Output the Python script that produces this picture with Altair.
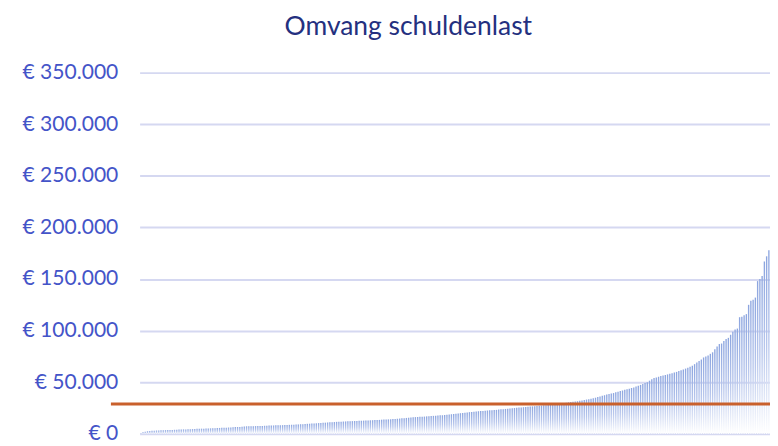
import altair as alt
import pandas as pd

# Debt amounts per household, sorted ascending (EUR)
debts = [
    900, 1500, 2100, 2500, 2800, 3000, 3100, 3200, 3300, 3400, 3500, 3600, 3700, 3800, 3800, 3900, 4000, 4100, 4200, 4300,
    4300, 4400, 4500, 4600, 4700, 4800, 4900, 5000, 5000, 5100, 5200, 5300, 5400, 5500, 5600, 5700, 5800, 5900, 6000, 6100,
    6200, 6300, 6500, 6600, 6700, 6900, 7000, 7300, 7300, 7400, 7400, 7500, 7600, 7700, 7700, 7800, 7900, 8000, 8000, 8100,
    8200, 8300, 8300, 8400, 8500, 8600, 8700, 8800, 8900, 9000, 9100, 9300, 9400, 9500, 9700, 9800, 10000, 10100, 10200, 10400,
    10500, 10700, 10800, 11000, 11100, 11300, 11400, 11600, 11700, 11800, 11900, 12000, 12100, 12200, 12300, 12400, 12500, 12600, 12700, 12800,
    12900, 13000, 13100, 13200, 13300, 13400, 13500, 13700, 13800, 13900, 14000, 14100, 14300, 14400, 14600, 14800, 15000, 15200, 15400, 15600,
    15800, 16000, 16200, 16300, 16500, 16600, 16700, 16900, 17000, 17200, 17400, 17500, 17700, 17900, 18000, 18200, 18500, 18700, 19000, 19200,
    19500, 19700, 20000, 20200, 20500, 20700, 21000, 21200, 21500, 21700, 21900, 22000, 22200, 22400, 22600, 22800, 22900, 23000, 23200, 23500,
    23700, 23900, 24100, 24300, 24500, 24800, 25000, 25200, 25400, 25600, 25800, 26000, 26200, 26400, 26600, 26800, 27000, 27200, 27400, 27600,
    27800, 28000, 28100, 28200, 28300, 28600, 29000, 29400, 29800, 30200, 30500, 30800, 31000, 31300, 31600, 32000, 32400, 32800, 33200, 33600,
    34000, 34500, 35000, 35600, 36200, 36800, 37400, 38000, 38500, 39000, 39500, 40200, 40800, 41400, 42000, 42600, 43200, 43800, 44400, 45000,
    45800, 46500, 47400, 48300, 49200, 50000, 51500, 52800, 54000, 54700, 55300, 56000, 56500, 57000, 57600, 58200, 58800, 59400, 60000, 60800,
    61600, 62400, 63200, 64000, 65000, 66000, 67500, 69000, 70500, 72000, 74000, 75000, 76000, 77500, 79000, 82000, 84500, 87000, 87500, 90000,
    92000, 93000, 96000, 99000, 101000, 102000, 113000, 113500, 115000, 116000, 125000, 129000, 130000, 132000, 148000, 150000, 153000, 167000, 172000, 178000,
]
reference_level = [29000]
title_text = "Omvang schuldenlast"

N = len(debts)
bars_df = pd.DataFrame({"idx": list(range(N)), "bedrag": debts})
ref_df = pd.DataFrame({"ref": reference_level})

W, H = 637, 365

y_scale = alt.Scale(domain=[0, 350000], nice=False, padding=0)
x_scale = alt.Scale(domain=[0, N], nice=False, zero=False, padding=0)

bars = alt.Chart(bars_df).transform_calculate(
    x0="datum.idx + 0.2", x1="datum.idx + 0.8"
).mark_bar(
    color=alt.Gradient(
        gradient="linear",
        x1=0, y1=0, x2=0, y2=1,
        stops=[
            alt.GradientStop(color="#8ca5df", offset=0),
            alt.GradientStop(color="#b7c6ec", offset=0.5),
            alt.GradientStop(color="#ffffff", offset=1),
        ],
    )
).encode(
    x=alt.X("x0:Q", axis=None, scale=x_scale),
    x2="x1:Q",
    y=alt.Y(
        "bedrag:Q",
        scale=y_scale,
        axis=alt.Axis(
            values=[0, 50000, 100000, 150000, 200000, 250000, 300000, 350000],
            labelExpr="datum.value == 0 ? '€ 0' : '€ ' + replace(format(datum.value, ',.0f'), ',', '.')",
            title=None,
            domain=False,
            ticks=False,
            grid=True,
            gridColor="#d5d8f1",
            gridWidth=2,
            labelColor="#4454c8",
            labelFont="Lato",
            labelFontSize=21.3,
            labelPadding=22,
        ),
    ),
    y2=alt.datum(0),
)

rule = alt.Chart(ref_df).mark_rule(color="#c9602c", strokeWidth=3).encode(
    y=alt.Y("ref:Q", scale=y_scale),
    x=alt.value(-29),
    x2=alt.value(W),
)

chart = (
    alt.layer(bars, rule)
    .properties(
        width=W,
        height=H,
        autosize=alt.AutoSizeParams(type="none"),
        padding={"left": 133, "right": 0, "top": 63, "bottom": 10},
        view=alt.ViewBackground(stroke="transparent", strokeWidth=0),
        title=alt.TitleParams(
            text=title_text,
            font="Lato",
            fontSize=26.7,
            fontWeight="normal",
            color="#24307f",
            anchor="middle",
            dx=-47,
            offset=21,
        ),
    )
    .configure_axis(domain=False, ticks=False)
    .configure_view(stroke="transparent", strokeWidth=0)
    .configure(background="#ffffff")
)

chart.save("out.html", embed_options={"renderer": "svg", "actions": False})
